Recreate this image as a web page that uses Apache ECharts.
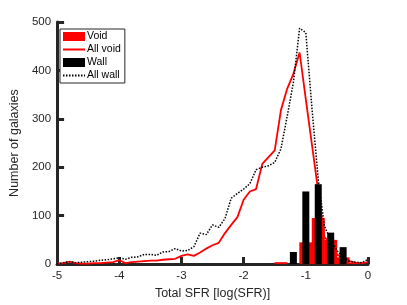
<!DOCTYPE html>
<html>
<head>
<meta charset="utf-8">
<script src="https://cdn.jsdelivr.net/npm/echarts@6/dist/echarts.min.js"></script>
<style>html,body{margin:0;padding:0;background:#fff}#c{width:407px;height:305px}</style>
</head>
<body>
<div id="c"></div>
<script>
// x grid for the "All" curves (log SFR)
var lineX = [-5.0,-4.9,-4.8,-4.7,-4.6,-4.5,-4.4,-4.3,-4.2,-4.1,-4.0,-3.9,-3.8,-3.7,-3.6,-3.5,-3.4,-3.3,-3.2,-3.1,-3.0,-2.9,-2.8,-2.7,-2.6,-2.5,-2.4,-2.3,-2.2,-2.1,-2.0,-1.9,-1.8,-1.7,-1.6,-1.5,-1.4,-1.3,-1.2,-1.1,-1.0,-0.9,-0.8,-0.7,-0.6,-0.5,-0.4,-0.3,-0.2,-0.1,0.0];
var allVoid = [1,2,5,2,1,1,2,2,3,4,8,2,4,5,6,7,7,9,10,11,17,20,17,24,32,39,44,64,81,97,133,150,155,207,221,235,318,362,393,437,340,245,150,55,45,20,12,6,3,2,4];
var allWall = [0,3,5,3,4,5,6,8,9,11,13,10,14,15,20,20,18,25,26,32,27,28,36,64,61,81,76,94,136,146,155,166,195,200,203,210,238,305,375,487,478,320,175,78,50,28,14,6,4,3,10];
// histogram bins
var voidBinX = [-1.4,-1.2,-1.0,-0.8,-0.6,-0.4,-0.2];
var voidBins = [4,0,45,95,50,14,3];
var wallBinX = [-1.2,-1.0,-0.8,-0.6,-0.4];
var wallBins = [25,150,165,65,35];
var xTicks = [-5,-4,-3,-2,-1,0];
var yTicks = [0,100,200,300,400,500];

function pairs(xs, ys){ return xs.map(function(x,i){ return [x, ys[i]]; }); }

var FONT = 'Liberation Sans';
var AX = '#262626';
var chart = echarts.init(document.getElementById('c'), null, {renderer:'canvas'});
var xBase = {
  type:'value', min:xTicks[0], max:xTicks[xTicks.length-1], interval:1,
  splitLine:{show:false}
};
chart.setOption({
  animation:false,
  textStyle:{fontFamily:FONT},
  grid:{left:53, right:39, top:22, bottom:35},
  legend:{
    orient:'vertical', left:60, top:29,
    backgroundColor:'#fff', borderColor:'#262626', borderWidth:1,
    padding:[2,4,2,2], itemGap:2, itemWidth:22, itemHeight:9,
    textStyle:{fontFamily:FONT, fontSize:10.5, color:'#000', padding:[0,0,0,-3]},
    data:[
      {name:'Void', icon:'rect'},
      {name:'All void', itemStyle:{opacity:0}},
      {name:'Wall', icon:'rect'},
      {name:'All wall', itemStyle:{opacity:0}}
    ]
  },
  xAxis:[
    Object.assign({}, xBase, {
      name:'Total SFR [log(SFR)]', nameLocation:'middle', nameGap:20,
      nameTextStyle:{fontFamily:FONT, fontSize:12.5, color:'#262626'},
      axisLine:{show:true, onZero:false, lineStyle:{color:AX, width:3}},
      axisTick:{show:true, inside:true, length:7, lineStyle:{color:AX, width:3}},
      axisLabel:{fontFamily:FONT, fontSize:11.5, color:'#262626', margin:6,
        formatter:function(v){ return String(v); }}
    }),
    Object.assign({}, xBase, {show:false, gridIndex:0,
      axisLine:{show:false, onZero:false}})
  ],
  yAxis:{
    type:'value', min:yTicks[0], max:yTicks[yTicks.length-1], interval:100,
    name:'Number of galaxies', nameLocation:'middle', nameGap:27,
    nameTextStyle:{fontFamily:FONT, fontSize:12.5, color:'#262626'},
    splitLine:{show:false},
    axisLine:{show:true, onZero:false, lineStyle:{color:AX, width:3}},
    axisTick:{show:true, inside:true, length:7, lineStyle:{color:AX, width:3}},
    axisLabel:{fontFamily:FONT, fontSize:11.5, color:'#262626', margin:6}
  },
  series:[
    {name:'Void', type:'bar', xAxisIndex:0, barWidth:13, z:2,
     itemStyle:{color:'#ff0000'}, data:pairs(voidBinX, voidBins)},
    {name:'All void', type:'line', xAxisIndex:0, showSymbol:false, symbol:'none', z:3,
     lineStyle:{color:'#ff0000', width:1.8}, itemStyle:{color:'#ff0000'},
     data:pairs(lineX, allVoid)},
    {name:'Wall', type:'bar', xAxisIndex:1, barWidth:7, z:4,
     itemStyle:{color:'#000000'}, data:pairs(wallBinX, wallBins)},
    {name:'All wall', type:'line', xAxisIndex:0, showSymbol:false, symbol:'none', z:5,
     lineStyle:{color:'#000000', width:1.5, type:[1.5,1.5]}, itemStyle:{color:'#000000'},
     data:pairs(lineX, allWall)}
  ]
});
</script>
</body>
</html>
